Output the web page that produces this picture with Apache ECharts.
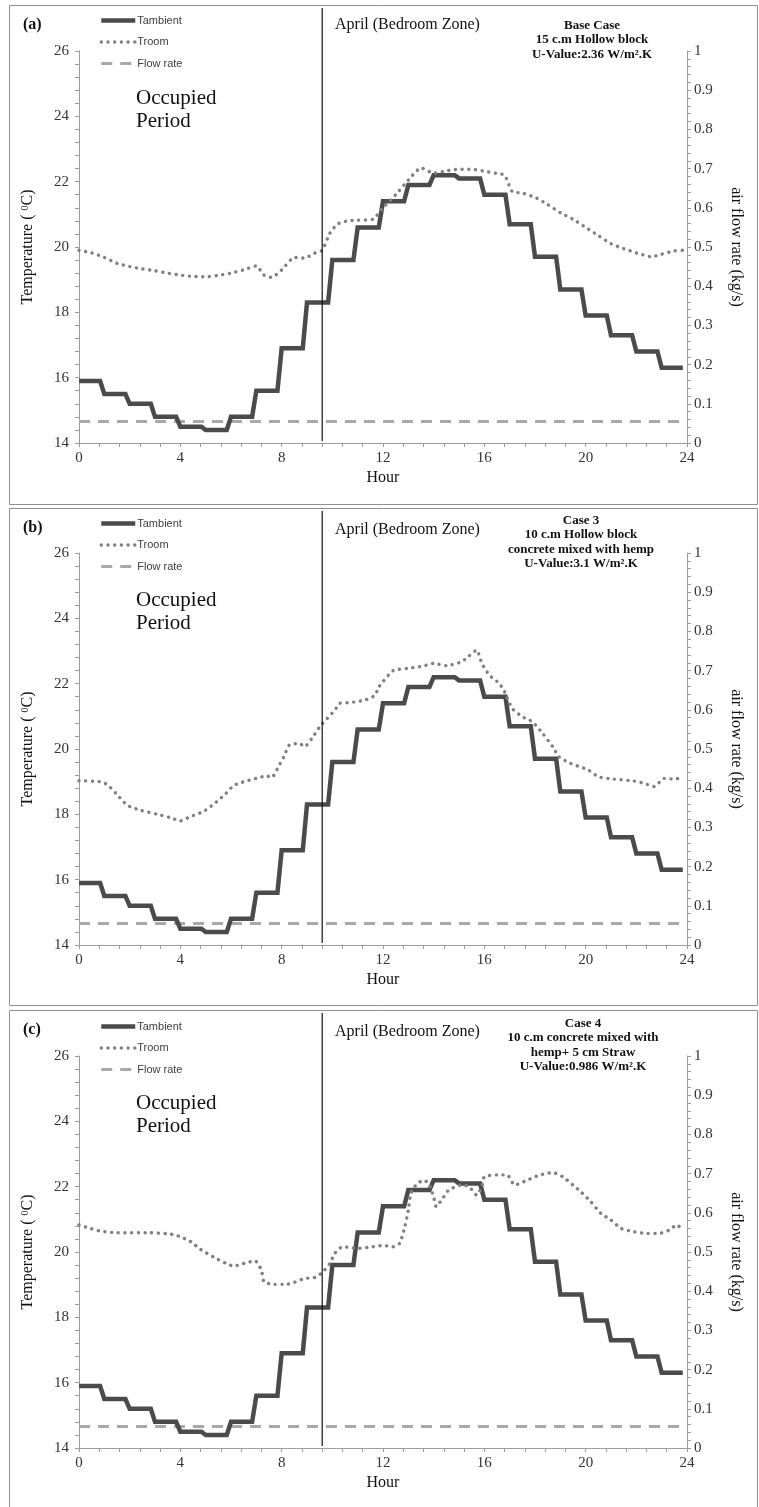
<!DOCTYPE html>
<html>
<head>
<meta charset="utf-8">
<script src="https://cdn.jsdelivr.net/npm/echarts@6/dist/echarts.min.js"></script>
<style>
  html, body { margin: 0; padding: 0; background: #fff; }
  #chart { width: 759px; height: 1507px; }
</style>
</head>
<body>
<div id="chart"></div>
<script>
// Hourly ambient temperature (°C) for the April design day, shared by every wall case
const HOURS = [0, 1, 2, 3, 4, 5, 6, 7, 8, 9, 10, 11, 12, 13, 14, 15, 16, 17, 18, 19, 20, 21, 22, 23];
const T_AMBIENT = [15.9, 15.5, 15.2, 14.8, 14.5, 14.4, 14.8, 15.6, 16.9, 18.3, 19.6, 20.6,
                   21.4, 21.9, 22.2, 22.1, 21.6, 20.7, 19.7, 18.7, 17.9, 17.3, 16.8, 16.3];
// Ventilation air flow rate (kg/s), hourly
const FLOW_RATE = [0.055, 0.055, 0.055, 0.055, 0.055, 0.055, 0.055, 0.055, 0.055, 0.055, 0.055, 0.055,
                   0.055, 0.055, 0.055, 0.055, 0.055, 0.055, 0.055, 0.055, 0.055, 0.055, 0.055, 0.055];

// Bedroom temperature (°C) – (a) base case, 15 cm hollow block
const TROOM_A_HOURS = [0, 0.5, 1, 1.5, 2, 2.5, 3, 3.5, 4, 4.5, 5, 5.5, 6, 6.5, 7, 7.3, 7.6, 8, 8.5, 8.9,
  9.3, 9.6, 9.9, 10.2, 10.6, 11, 11.6, 12, 12.5, 13, 13.5, 14, 14.5, 15, 15.5, 16, 16.5, 16.8, 17.1,
  17.5, 18, 18.5, 19, 19.5, 20, 20.5, 21, 21.5, 22, 22.6, 23, 23.5, 23.83];
const TROOM_A = [19.9, 19.82, 19.68, 19.5, 19.4, 19.33, 19.27, 19.2, 19.14, 19.1, 19.09, 19.13, 19.2,
  19.3, 19.42, 19.14, 19.07, 19.3, 19.68, 19.66, 19.81, 19.9, 20.42, 20.7, 20.8, 20.82, 20.85, 21.2,
  21.6, 22.05, 22.42, 22.26, 22.33, 22.38, 22.38, 22.32, 22.25, 22.2, 21.7, 21.65, 21.52, 21.3, 21.05,
  20.85, 20.6, 20.35, 20.1, 19.95, 19.82, 19.7, 19.78, 19.88, 19.9];

// Bedroom temperature (°C) – (b) case 3, 10 cm hollow block with hemp concrete
const TROOM_B_HOURS = [0, 0.8, 1.1, 1.5, 1.9, 2.4, 3.1, 3.6, 4.0, 4.4, 4.9, 5.3, 5.8, 6.1, 6.6, 7.1, 7.4,
  7.6, 7.9, 8.1, 8.3, 8.7, 8.9, 9.2, 9.5, 9.8, 10.1, 10.3, 10.7, 11.3, 11.7, 11.8, 12.0, 12.4, 13.0, 13.6,
  14.0, 14.5, 15.1, 15.4, 15.7, 15.9, 16.2, 16.6, 16.8, 17.1, 17.5, 17.9, 18.3, 18.7, 18.95, 19.4, 20.1,
  20.5, 21.1, 21.9, 22.3, 22.7, 23.1, 23.5, 23.83];
const TROOM_B = [19.03, 19.0, 18.92, 18.61, 18.28, 18.13, 18.0, 17.9, 17.8, 17.93, 18.08, 18.3, 18.64,
  18.88, 19.02, 19.12, 19.18, 19.12, 19.5, 19.78, 20.12, 20.17, 20.07, 20.33, 20.68, 20.94, 21.19, 21.4,
  21.42, 21.5, 21.65, 21.86, 22.06, 22.4, 22.47, 22.54, 22.62, 22.55, 22.67, 22.85, 23.03, 22.62, 22.26,
  22.0, 21.75, 21.24, 20.99, 20.83, 20.48, 20.07, 19.76, 19.56, 19.36, 19.15, 19.08, 19.02, 18.95, 18.85,
  19.1, 19.08, 19.12];

// Bedroom temperature (°C) – (c) case 4, hemp concrete + 5 cm straw
const TROOM_C_HOURS = [0, 0.45, 0.84, 1.5, 2.8, 3.6, 4.0, 4.4, 4.8, 5.3, 5.8, 6.1, 6.6, 6.95, 7.2, 7.3,
  7.7, 8.2, 8.5, 8.9, 9.3, 9.6, 9.9, 10.1, 10.4, 11.0, 11.6, 12.0, 12.4, 12.66, 12.86, 13.0, 13.1, 13.3,
  13.6, 13.8, 14.0, 14.1, 14.4, 14.6, 15.1, 15.4, 15.7, 15.9, 16.0, 16.5, 16.9, 17.2, 17.7, 18.2, 18.7,
  19.1, 19.5, 19.8, 20.2, 20.6, 21.0, 21.4, 21.9, 22.4, 22.9, 23.3, 23.6, 23.83];
const TROOM_C = [20.83, 20.72, 20.64, 20.59, 20.59, 20.55, 20.47, 20.32, 20.08, 19.85, 19.65, 19.57,
  19.67, 19.73, 19.45, 19.09, 19.01, 19.01, 19.07, 19.19, 19.22, 19.37, 19.65, 19.96, 20.16, 20.11,
  20.16, 20.2, 20.16, 20.27, 20.77, 21.29, 21.8, 22.05, 22.2, 22.1, 21.69, 21.39, 21.69, 21.9, 22.05,
  22.0, 21.74, 22.0, 22.3, 22.36, 22.36, 22.05, 22.2, 22.36, 22.43, 22.3, 22.05, 21.85, 21.54, 21.18,
  20.98, 20.72, 20.62, 20.57, 20.57, 20.67, 20.83, 20.67];

// End of the occupied period (hour)
const OCCUPIED_END_HOUR = 9.6;

const SERIES_NAMES = ['Tambient', 'Troom', 'Flow rate'];
const TEMP_TICKS = { min: 14, max: 26, interval: 2 };
const FLOW_TICKS = { min: 0, max: 1, interval: 0.1 };
const HOUR_TICKS = { min: 0, max: 24, interval: 4 };

const PANELS = [
  { tag: '(a)', caseText: ['Base Case', '15 c.m Hollow block', 'U-Value:2.36 W/m\u00B2.K'],
    hours: TROOM_A_HOURS, troom: TROOM_A },
  { tag: '(b)', caseText: ['Case 3', '10 c.m Hollow block', 'concrete mixed with hemp', 'U-Value:3.1 W/m\u00B2.K'],
    hours: TROOM_B_HOURS, troom: TROOM_B },
  { tag: '(c)', caseText: ['Case 4', '10 c.m concrete mixed with', 'hemp+ 5 cm Straw', 'U-Value:0.986 W/m\u00B2.K'],
    hours: TROOM_C_HOURS, troom: TROOM_C }
];

// Layout of the three stacked panels
const LAYOUT = [
  { frameTop: 5,    frameBottom: 504,  gridTop: 51,   caseX: 592, caseY: 18,   tagY: 25,   legendTop: 15,   aprilY: 25,   occY: 98 },
  { frameTop: 508,  frameBottom: 1005, gridTop: 553,  caseX: 581, caseY: 513,  tagY: 528,  legendTop: 518,  aprilY: 530,  occY: 600 },
  { frameTop: 1010, frameBottom: 1515, gridTop: 1056, caseX: 583, caseY: 1016, tagY: 1030, legendTop: 1021, aprilY: 1032, occY: 1103 }
];
const GRID_LEFT = 79, GRID_RIGHT = 72, GRID_HEIGHT = 392;

const SERIF = '"Liberation Serif", "Times New Roman", serif';
const SANS = '"Liberation Sans", Arial, sans-serif';
const AXIS_GRAY = '#9c9c9c';
const LABEL_COLOR = '#333333';

// Each simulation hour is held flat until its last 10-minute timestep
const STEP_HOLD = 5 / 6;
function heldSteps(hours, values) {
  const pts = [];
  hours.forEach((h, i) => { pts.push([h, values[i]]); pts.push([h + STEP_HOLD, values[i]]); });
  return pts;
}
function pairs(hours, values) { return hours.map((h, i) => [h, values[i]]); }

const tickLabel = { fontFamily: SERIF, fontSize: 15, color: LABEL_COLOR };

const grids = [], xAxes = [], yAxes = [], series = [], legends = [];
PANELS.forEach((p, i) => {
  const L = LAYOUT[i];
  grids.push({ left: GRID_LEFT, right: GRID_RIGHT, top: L.gridTop, height: GRID_HEIGHT,
               containLabel: false, outerBoundsMode: 'none' });
  xAxes.push({
    type: 'value', gridIndex: i, ...HOUR_TICKS,
    name: 'Hour', nameLocation: 'middle', nameGap: 27,
    nameTextStyle: { fontFamily: SERIF, fontSize: 16, color: '#111' },
    axisLine: { show: true, lineStyle: { color: AXIS_GRAY, width: 1 } },
    axisTick: { show: true, length: 4, lineStyle: { color: AXIS_GRAY } },
    minorTick: { show: true, splitNumber: 5, length: 4, lineStyle: { color: AXIS_GRAY } },
    axisLabel: { ...tickLabel, margin: 8 },
    splitLine: { show: false }, minorSplitLine: { show: false }
  });
  yAxes.push({
    type: 'value', gridIndex: i, position: 'left', ...TEMP_TICKS,
    name: 'Temperature ( {sup|0}C)', nameLocation: 'middle', nameGap: 43,
    nameTextStyle: { fontFamily: SERIF, fontSize: 16, color: '#111',
      rich: { sup: { fontFamily: SERIF, fontSize: 10, color: '#111', verticalAlign: 'top' } } },
    axisLine: { show: true, lineStyle: { color: AXIS_GRAY, width: 1 } },
    axisTick: { show: true, length: 4, lineStyle: { color: AXIS_GRAY } },
    minorTick: { show: true, splitNumber: 5, length: 4, lineStyle: { color: AXIS_GRAY } },
    axisLabel: { ...tickLabel, margin: 10 },
    splitLine: { show: false }, minorSplitLine: { show: false }
  });
  yAxes.push({
    type: 'value', gridIndex: i, position: 'right', ...FLOW_TICKS,
    name: 'air flow rate (kg/s)', nameLocation: 'middle', nameGap: 41, nameRotate: -90,
    nameTextStyle: { fontFamily: SERIF, fontSize: 16, color: '#111' },
    axisLine: { show: true, lineStyle: { color: AXIS_GRAY, width: 1 } },
    axisTick: { show: true, length: 4, lineStyle: { color: AXIS_GRAY } },
    minorTick: { show: true, splitNumber: 5, length: 4, lineStyle: { color: AXIS_GRAY } },
    axisLabel: { ...tickLabel, margin: 7 },
    splitLine: { show: false }, minorSplitLine: { show: false }
  });

  const common = { type: 'line', xAxisIndex: i, symbol: 'none', silent: true, animation: false };
  series.push({ ...common, name: SERIES_NAMES[2], yAxisIndex: 2 * i + 1, z: 2,
    data: heldSteps(HOURS, FLOW_RATE),
    itemStyle: { color: '#a9a9a9' },
    lineStyle: { color: '#a9a9a9', width: 3, type: [11, 8] } });
  series.push({ ...common, name: SERIES_NAMES[0], yAxisIndex: 2 * i, z: 3,
    data: heldSteps(HOURS, T_AMBIENT),
    itemStyle: { color: '#4b4b4b' },
    lineStyle: { color: '#4b4b4b', width: 4.5, join: 'miter' } });
  series.push({ ...common, name: SERIES_NAMES[1], yAxisIndex: 2 * i, z: 4,
    data: pairs(p.hours, p.troom), smooth: 0.2,
    itemStyle: { color: '#808080' },
    lineStyle: { color: '#808080', width: 3.4, type: [0.1, 6.6], cap: 'round' } });

  legends.push({
    left: 99, top: L.legendTop, orient: 'vertical', selectedMode: false, padding: 0,
    itemWidth: 34, itemHeight: 10, itemGap: 10.5,
    itemStyle: { opacity: 0 },
    lineStyle: { width: 'inherit', type: 'inherit', cap: 'inherit' },
    data: SERIES_NAMES,
    textStyle: { fontFamily: SANS, fontSize: 11, color: '#404040', padding: [0, 0, 0, -3] }
  });
});

const chart = echarts.init(document.getElementById('chart'), null, { renderer: 'canvas' });
chart.setOption({
  animation: false,
  backgroundColor: '#ffffff',
  grid: grids, xAxis: xAxes, yAxis: yAxes, series: series, legend: legends
});

// Frames, occupied-period markers and annotation texts
const graphics = [];
PANELS.forEach((p, i) => {
  const L = LAYOUT[i];
  graphics.push({ type: 'rect', silent: true, z: 0,
    shape: { x: 9.5, y: L.frameTop + 0.5, width: 748, height: L.frameBottom - L.frameTop },
    style: { fill: null, stroke: '#8f8f8f', lineWidth: 1 } });

  const xLine = chart.convertToPixel({ xAxisIndex: i }, OCCUPIED_END_HOUR);
  const yBase = chart.convertToPixel({ yAxisIndex: 2 * i }, TEMP_TICKS.min);
  graphics.push({ type: 'line', silent: true, z: 10,
    shape: { x1: xLine, y1: L.frameTop + 3, x2: xLine, y2: yBase - 2 },
    style: { stroke: '#111', lineWidth: 1.2 } });

  graphics.push({ type: 'text', silent: true, z: 10, x: 23, y: L.tagY,
    style: { text: p.tag, font: 'bold 16px ' + SERIF, fill: '#111', align: 'left', verticalAlign: 'middle' } });
  graphics.push({ type: 'text', silent: true, z: 10, x: 335, y: L.aprilY,
    style: { text: 'April (Bedroom Zone)', font: '16px ' + SERIF, fill: '#111', align: 'left', verticalAlign: 'middle' } });
  // "Occupied" / "Period" block, anchored on its vertical middle
  graphics.push({ type: 'text', silent: true, z: 10, x: 136, y: L.occY + 11.5,
    style: { text: 'Occupied\nPeriod', font: '21px ' + SERIF, lineHeight: 23, fill: '#111', align: 'left', verticalAlign: 'middle' } });
  graphics.push({ type: 'text', silent: true, z: 10, x: L.caseX, y: L.caseY,
    style: { text: p.caseText.join('\n'), font: 'bold 13px ' + SERIF, lineHeight: 14.5, fill: '#111', align: 'center', verticalAlign: 'top' } });
});
chart.setOption({ graphic: graphics });
</script>
</body>
</html>
